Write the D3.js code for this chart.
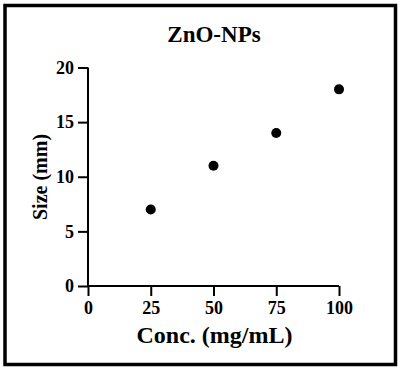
<!DOCTYPE html>
<html><head><meta charset="utf-8">
<script src="https://cdn.jsdelivr.net/npm/d3@7"></script>
<style>body{margin:0;background:#fff}svg{display:block}text{font-family:"Liberation Serif","Times New Roman",serif;font-weight:bold;fill:#000}</style>
</head><body>
<script>
const conc = [25, 50, 75, 100];
const size = [7, 11, 14, 18];
const xTicks = [0, 25, 50, 75, 100];
const yTicks = [0, 5, 10, 15, 20];
const title = "ZnO-NPs";
const xTitle = "Conc. (mg/mL)";
const yTitle = "Size (mm)";

const W = 400, H = 371;
const svg = d3.select("body").append("svg").attr("width", W).attr("height", H);
svg.append("rect").attr("x", 5).attr("y", 5.5).attr("width", 390.5).attr("height", 359)
  .attr("fill", "#fff").attr("stroke", "#000").attr("stroke-width", 3.5);

const x = d3.scaleLinear().domain([0, 100]).range([88, 339]);
const y = d3.scaleLinear().domain([0, 20]).range([286, 67.5]);

const xa = svg.append("g").attr("transform", "translate(0,286)")
  .call(d3.axisBottom(x).tickValues(xTicks).tickSize(10).tickPadding(5).tickSizeOuter(0));
const ya = svg.append("g").attr("transform", "translate(88,0)")
  .call(d3.axisLeft(y).tickValues(yTicks).tickSize(10).tickPadding(4).tickSizeOuter(0));
[xa, ya].forEach(a => {
  a.selectAll("path,line").attr("stroke", "#000").attr("stroke-width", 2);
  a.selectAll("text").attr("font-size", 18).attr("font-family", '"Liberation Serif",serif').attr("font-weight", "bold").attr("fill", "#000");
});
ya.select(".domain").attr("d", "M0,286V67.5");
xa.select(".domain").attr("d", "M88,0H339");

svg.append("g").selectAll("circle").data(conc).join("circle")
  .attr("cx", d => x(d)).attr("cy", (d, i) => y(size[i])).attr("r", 5).attr("fill", "#000");

svg.append("text").attr("x", 214).attr("y", 41.5).attr("text-anchor", "middle").attr("font-size", 23).text(title);
svg.append("text").attr("x", 214.5).attr("y", 343).attr("text-anchor", "middle").attr("font-size", 24).text(xTitle);
svg.append("text").attr("transform", "translate(47,177) rotate(-90)").attr("text-anchor", "middle").attr("font-size", 20).text(yTitle);
</script>
</body></html>
